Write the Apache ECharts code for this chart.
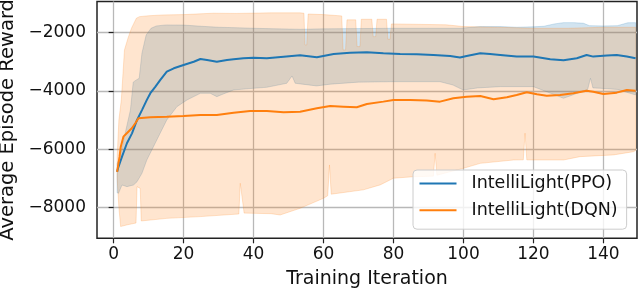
<!DOCTYPE html>
<html>
<head>
<meta charset="utf-8">
<script src="https://cdn.jsdelivr.net/npm/echarts@6/dist/echarts.min.js"></script>
<style>
html,body{margin:0;padding:0;background:#fff;}
#chart{width:640px;height:291px;}
</style>
</head>
<body>
<div id="chart"></div>
<script>
// ---- data ----
const xTicks = [0, 20, 40, 60, 80, 100, 120, 140];
const yTicks = [-8000, -6000, -4000, -2000];
const seriesNames = ['IntelliLight(PPO)', 'IntelliLight(DQN)'];

const ppoMean = [[1,-6780],[1.4,-6600],[2.4,-6260],[3.8,-5800],[5.25,-5460],[6.7,-5000],[8.1,-4660],[9.5,-4310],[10.5,-4080],[11.9,-3860],[13.3,-3630],[15.2,-3340],[17.2,-3225],[20,-3110],[22.9,-3000],[24.8,-2905],[26.7,-2940],[29.5,-3000],[32.4,-2940],[34.3,-2915],[37.1,-2880],[40,-2860],[43.8,-2880],[48.6,-2825],[53.3,-2780],[58.1,-2846],[62.9,-2732],[67.6,-2687],[72.4,-2675],[77.1,-2710],[81.9,-2732],[86.7,-2743],[91.4,-2766],[96.2,-2800],[99,-2857],[100.9,-2800],[104.8,-2710],[107.6,-2732],[110.5,-2766],[115.2,-2823],[120,-2823],[124.8,-2915],[128.6,-2949],[132.4,-2880],[135.2,-2766],[137.1,-2823],[141,-2789],[143.8,-2766],[146.7,-2823],[149.2,-2880]];

const dqnMean = [[1,-6780],[1.7,-6260],[2.05,-5916],[2.8,-5573],[4.2,-5402],[5.2,-5285],[6.2,-5113],[7.1,-4940],[10.5,-4907],[15.2,-4886],[20,-4863],[24.8,-4830],[29.5,-4830],[34.3,-4749],[39,-4690],[43.8,-4690],[48.6,-4737],[53.3,-4714],[58.1,-4600],[61.9,-4519],[65.7,-4542],[69.5,-4565],[72.4,-4450],[77.1,-4370],[80,-4312],[84.8,-4312],[89.5,-4335],[93.3,-4370],[97.1,-4255],[100.9,-4199],[104.8,-4175],[108.6,-4290],[112.4,-4221],[115.2,-4140],[118.1,-4050],[121,-4118],[123.8,-4165],[127.6,-4140],[131.4,-4084],[135.2,-3993],[137.1,-4027],[140,-4106],[143.8,-4061],[146.7,-3970],[149.2,-3993]];

const ppoUpper = [[1,-6500],[1.9,-6260],[3.3,-5457],[4.8,-4656],[5.6,-3700],[6.5,-3625],[7.3,-3570],[8.1,-2700],[9.3,-2080],[10.7,-1850],[12.2,-1770],[15,-1735],[20,-1740],[25,-1780],[30,-1815],[35,-1830],[40,-1850],[47,-1870],[53.3,-1884],[60,-1870],[70,-1860],[80,-1850],[90,-1850],[99,-1850],[104.8,-1793],[110.5,-1793],[115.2,-1815],[120,-1800],[123,-1780],[126,-1700],[128.6,-1656],[131.5,-1656],[134.3,-1678],[136,-1760],[140,-1770],[144,-1760],[147,-1660],[149.2,-1656]];

const ppoLower = [[1,-7500],[1.4,-7518],[2.4,-7233],[3.8,-7290],[5.7,-7233],[6.7,-7120],[8.1,-6832],[9.5,-6374],[11.4,-5916],[13.3,-5457],[15.2,-5000],[18.1,-4542],[21,-4312],[24.8,-4083],[27.6,-4083],[29.5,-4199],[31.5,-4100],[34.3,-3969],[40,-3911],[43.8,-3877],[49.5,-3740],[51,-3488],[51.9,-3740],[53.3,-3760],[58,-3830],[62,-3770],[70,-3700],[80,-3685],[93.3,-3685],[97,-3800],[99.9,-3970],[104,-3900],[110.5,-3855],[120,-3855],[123.8,-4030],[128.6,-4255],[131,-4150],[135.5,-3950],[136.3,-3568],[137,-3900],[139,-3910],[144,-3950],[149.2,-4140]];

const dqnUpper = [[1,-6300],[1.5,-5000],[2.2,-4312],[3.1,-2594],[4.1,-2193],[5.1,-1850],[6.5,-1505],[7.4,-1450],[10,-1420],[14.1,-1392],[20,-1380],[28.4,-1333],[35,-1340],[45,-1320],[53.3,-1320],[54.4,-1333],[54.7,-2423],[55.2,-2423],[55.6,-1360],[60,-1380],[65.2,-1425],[65.6,-2594],[66.3,-2594],[66.7,-1560],[69.2,-1560],[69.6,-2480],[70.4,-2480],[70.8,-1540],[73.8,-1540],[74.2,-2137],[74.9,-2137],[75.3,-1540],[78,-1540],[78.4,-2227],[79,-2227],[79.4,-1700],[85,-1710],[95,-1730],[100,-1790],[110,-1815],[120,-1850],[130,-1850],[140,-1815],[149.2,-1815]];

const dqnLower = [[1,-7000],[1.5,-8000],[2,-8660],[4,-8600],[6.4,-8540],[6.7,-7290],[7.6,-7350],[7.9,-8470],[15.2,-8380],[24.8,-8320],[35.8,-8230],[36.2,-7175],[37.3,-8200],[45,-8220],[47.6,-8264],[53.3,-8035],[60,-7690],[61.2,-7600],[61.7,-6545],[62.2,-7550],[71.4,-7400],[76.2,-7230],[80,-7000],[85.7,-6950],[91.4,-6930],[91.9,-6145],[92.4,-6900],[100,-6660],[104.8,-6490],[114.3,-6375],[117.1,-6370],[117.6,-5455],[118.1,-6370],[120,-6375],[128.6,-6375],[133.3,-6260],[142.9,-6200],[148.6,-6090],[149.2,-6050]];

// ---- chart ----
const FONT = 'DejaVu Sans';
const BLUE = '#1f77b4', ORANGE = '#ff7f0e';
const fmt = v => String(v).replace('-', '\u2212');

function band(name, upper, lower, fill, z) {
  return {
    type: 'custom', name: name, silent: true, z: z,
    data: [[upper[0][0], upper[0][1]]],
    renderItem: function (params, api) {
      const pts = upper.map(p => api.coord(p))
        .concat(lower.slice().reverse().map(p => api.coord(p)));
      return { type: 'polygon', shape: { points: pts },
               style: { fill: fill, stroke: fill, lineWidth: 1 } };
    }
  };
}

const chart = echarts.init(document.getElementById('chart'), null, { renderer: 'canvas' });
chart.setOption({
  animation: false,
  textStyle: { fontFamily: FONT },
  grid: { left: 97, right: 3, top: 1.5, bottom: 52.7, show: true, outerBoundsMode: 'none', containLabel: false,
          borderColor: '#222', borderWidth: 1.5, backgroundColor: 'transparent' },
  xAxis: {
    type: 'value', min: -4.75, max: 149.6,
    name: 'Training Iteration', nameLocation: 'middle', nameGap: 31,
    nameTextStyle: { fontSize: 19, color: '#111', fontFamily: FONT },
    axisLine: { show: false },
    axisTick: { show: true, length: 5, customValues: xTicks, lineStyle: { color: '#222', width: 1.2 } },
    axisLabel: { customValues: xTicks, fontSize: 17, color: '#111', fontFamily: FONT, margin: 8, formatter: fmt },
    splitLine: { show: true, lineStyle: { color: '#b8b8b8', width: 1.3 } }
  },
  yAxis: {
    type: 'value', min: -9065, max: -930,
    name: 'Average Episode Reward', nameLocation: 'middle', nameGap: 79,
    nameTextStyle: { fontSize: 19.5, color: '#111', fontFamily: FONT },
    axisLine: { show: false },
    axisTick: { show: true, length: 5, customValues: yTicks, lineStyle: { color: '#222', width: 1.2 } },
    axisLabel: { customValues: yTicks, fontSize: 17, color: '#111', fontFamily: FONT, margin: 11, formatter: fmt },
    splitLine: { show: true, lineStyle: { color: '#b8b8b8', width: 1.3 } }
  },
  legend: {
    data: seriesNames, orient: 'vertical', left: 413, top: 170,
    itemWidth: 37, itemHeight: 18, itemGap: 8.7,
    icon: 'path://M0,0 L37,0 L37,2 L0,2 Z', symbolKeepAspect: true,
    padding: [4.5, 9, 10, 6.5],
    borderColor: '#cccccc', borderWidth: 1, borderRadius: 4,
    backgroundColor: 'rgba(255,255,255,0.8)',
    textStyle: { fontSize: 17.5, color: '#111', fontFamily: FONT, padding: [0, 0, 0, 10] }
  },
  series: [
    band('ppoBand', ppoUpper, ppoLower, 'rgba(31,119,180,0.2)', 1),
    band('dqnBand', dqnUpper, dqnLower, 'rgba(255,127,14,0.2)', 2),
    { type: 'line', name: seriesNames[0], data: ppoMean, symbol: 'none', z: 3,
      color: BLUE, lineStyle: { color: BLUE, width: 2 } },
    { type: 'line', name: seriesNames[1], data: dqnMean, symbol: 'none', z: 4,
      color: ORANGE, lineStyle: { color: ORANGE, width: 2 } }
  ]
});
</script>
</body>
</html>
